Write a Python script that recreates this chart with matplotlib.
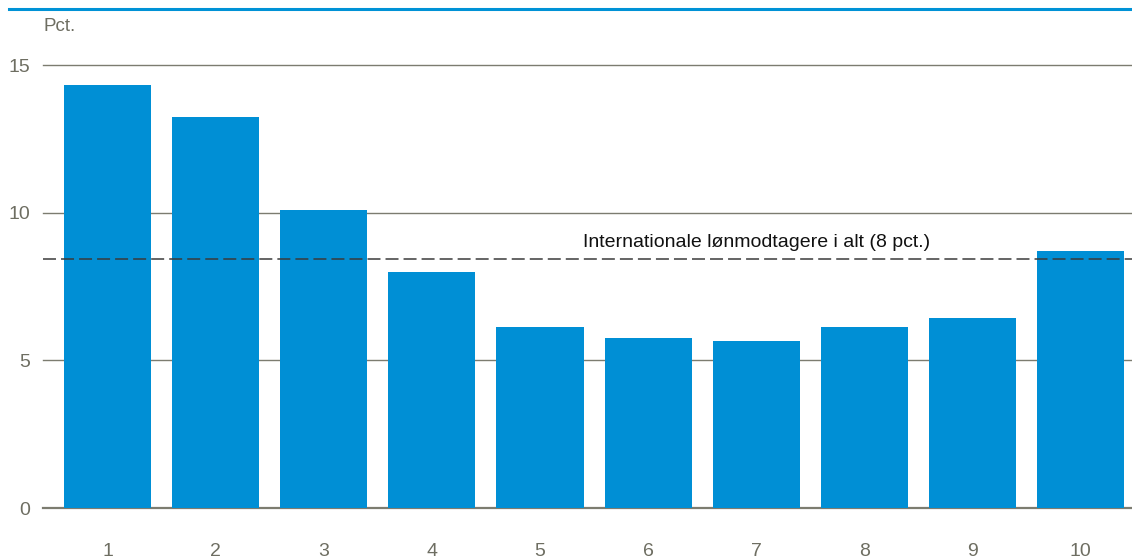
import numpy as np
import matplotlib.pyplot as plt
from matplotlib.lines import Line2D

plt.rcParams['font.family'] = ['Liberation Sans', 'DejaVu Sans']

# data
deciles = [1, 2, 3, 4, 5, 6, 7, 8, 9, 10]
shares = [14.32, 13.24, 10.09, 7.99, 6.13, 5.76, 5.66, 6.13, 6.43, 8.70]
total_share = 8.43
total_label = 'Internationale lønmodtagere i alt (8 pct.)'
y_ticks = [0, 5, 10, 15]

bar_color = '#008fd5'
grid_color = '#7c7c70'
text_color = '#6e6e62'

fig = plt.figure(figsize=(11.32, 5.59), dpi=100)
ax = fig.add_axes([0.038, 0.0912, 0.962, 0.7925])

ax.bar(deciles, shares, width=0.805, color=bar_color, zorder=3)
ax.axhline(total_share, color='#3a3a3a', lw=1.1, ls=(0, (8.5, 3.3)), zorder=4)
ax.text(7.0, total_share + 0.28, total_label, ha='center', va='bottom',
        fontsize=14, color='#111111', zorder=5)

ax.set_xlim(0.403, 10.476)
ax.set_ylim(0, 15)
ax.set_yticks(y_ticks)
ax.set_xticks(deciles)
ax.set_xticklabels([str(d) for d in deciles])
for y in y_ticks:
    ax.axhline(y, color=grid_color, lw=1.0 if y else 1.6, zorder=2, clip_on=False)

for s in ax.spines.values():
    s.set_visible(False)
ax.tick_params(axis='both', length=0, labelsize=14, colors=text_color)
ax.tick_params(axis='y', pad=9)
ax.tick_params(axis='x', pad=25)
for lab in ax.get_yticklabels():
    lab.set_horizontalalignment('right')

fig.text(0.038, 0.952, 'Pct.', fontsize=13.5, color=text_color, ha='left', va='center')
fig.add_artist(Line2D([0.008, 1.0], [0.984, 0.984], color='#0092d6', lw=2.2,
                      transform=fig.transFigure))

fig.savefig('out.png', dpi=100)
